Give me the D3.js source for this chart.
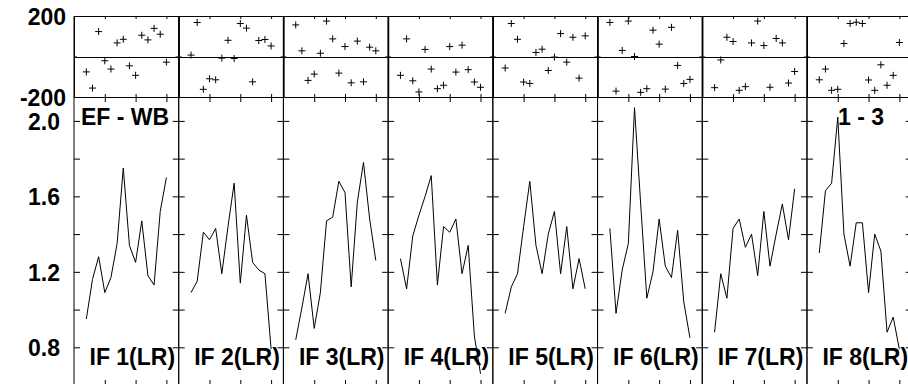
<!DOCTYPE html>
<html>
<head>
<meta charset="utf-8">
<script src="https://cdn.jsdelivr.net/npm/d3@7/dist/d3.min.js"></script>
<style>
  html, body { margin: 0; padding: 0; background: #fff; }
  svg { display: block; }
</style>
</head>
<body>
<svg id="chart" width="908" height="384"></svg>
<script>
// ---------- data ----------
const panelLabels = ["IF 1(LR)", "IF 2(LR)", "IF 3(LR)", "IF 4(LR)", "IF 5(LR)", "IF 6(LR)", "IF 7(LR)", "IF 8(LR)"];
const xValues = [2, 3, 4, 5, 6, 7, 8, 9, 10, 11, 12, 13, 14, 15];
const xTicks = [5, 10, 15];
const topTickLabels = [-200, 200];
const lowTicks = [0.8, 1.0, 1.2, 1.4, 1.6, 1.8, 2.0];
const lowTickLabels = [0.8, 1.2, 1.6, 2.0];

// top strip (scatter of "+") values per panel
const score1 = [-76, -156, 123, -21, -62, 67, 85, -46, -93, 105, 82, 139, 110, -28];
const score2 = [7, 168, -162, -110, -115, -8, 80, -10, 163, 140, -125, 79, 84, 52];
const score3 = [156, 28, -118, -87, 16, 175, 87, -82, 49, -130, 76, -125, 46, 28];
const score4 = [-93, 87, -120, -175, 35, -62, -159, -142, 49, -77, 56, -65, -126, -152];
const score5 = [-57, 163, 85, -126, -133, 20, 36, -69, -3, 113, -28, 95, -107, 102];
const score6 = [168, -171, 30, 175, 0, -177, -159, 130, 61, -161, 144, -44, -133, -113];
const score7 = [-154, -17, 95, 74, -167, -149, 67, 175, 54, -152, 89, 67, -131, -74];
const score8 = [-115, -62, -167, -162, 64, 163, 169, 163, -116, -167, -41, -142, -93, 69];

// lower panel (line) values per panel
const ratio1 = [0.95, 1.16, 1.28, 1.09, 1.17, 1.35, 1.75, 1.34, 1.25, 1.47, 1.18, 1.13, 1.52, 1.70];
const ratio2 = [1.09, 1.15, 1.41, 1.37, 1.43, 1.19, 1.44, 1.67, 1.14, 1.50, 1.25, 1.21, 1.19, 0.79];
const ratio3 = [0.84, 1.01, 1.19, 0.90, 1.09, 1.47, 1.49, 1.68, 1.62, 1.12, 1.57, 1.78, 1.48, 1.26];
const ratio4 = [1.27, 1.11, 1.39, 1.50, 1.60, 1.71, 1.13, 1.44, 1.41, 1.48, 1.19, 1.34, 0.86, 0.66];
const ratio5 = [0.98, 1.12, 1.19, 1.44, 1.68, 1.34, 1.19, 1.40, 1.52, 1.19, 1.44, 1.11, 1.27, 1.11];
const ratio6 = [1.43, 0.98, 1.21, 1.35, 2.07, 1.56, 1.06, 1.20, 1.48, 1.23, 1.17, 1.42, 1.04, 0.85];
const ratio7 = [0.88, 1.19, 1.06, 1.43, 1.48, 1.33, 1.40, 1.18, 1.52, 1.23, 1.40, 1.56, 1.37, 1.64];
const ratio8 = [1.30, 1.63, 1.67, 2.02, 1.40, 1.23, 1.46, 1.46, 1.09, 1.40, 1.31, 0.88, 0.96, 0.79];

const cornerLeft = "EF - WB";
const cornerRight = "1 - 3";

const scores = [score1, score2, score3, score4, score5, score6, score7, score8];
const ratios = [ratio1, ratio2, ratio3, ratio4, ratio5, ratio6, ratio7, ratio8];

// ---------- layout ----------
const left0 = 74, panelW = 104.71;
const topY0 = 16, topY1 = 97;   // top strip
const lowY0 = 97, lowY1 = 386;  // lower panel frame
const FONT = "'Liberation Sans', Arial, Helvetica, sans-serif";

const svg = d3.select("#chart");

const yTop = d3.scaleLinear().domain([-200, 200]).range([topY1, topY0]);
const yLow = d3.scaleLinear().domain([0.8, 2.0]).range([347.3, 120.9]);

function styleAxis(g) {
  g.selectAll("path.domain").attr("stroke", "#000").attr("stroke-width", 1);
  g.selectAll(".tick line").attr("stroke", "#000").attr("stroke-width", 1);
  g.selectAll(".tick text").remove();
}

panelLabels.forEach((label, i) => {
  const x0 = left0 + i * panelW, x1 = x0 + panelW;
  const xs = d3.scaleLinear().domain([0, 17]).range([x0, x1]);
  const g = svg.append("g");

  // ----- top strip frame & ticks -----
  g.append("g").attr("transform", `translate(0,${topY0})`)
    .call(d3.axisBottom(xs).tickValues(xTicks).tickSize(3).tickSizeOuter(0).tickFormat(""))
    .call(styleAxis);
  g.append("g").attr("transform", `translate(0,${topY1})`)
    .call(d3.axisTop(xs).tickValues(xTicks).tickSize(3).tickSizeOuter(0).tickFormat(""))
    .call(styleAxis);
  g.append("g").attr("transform", `translate(${x0},0)`)
    .call(d3.axisRight(yTop).tickValues([-200, 0, 200]).tickSize(3).tickSizeOuter(0).tickFormat(""))
    .call(styleAxis);
  g.append("g").attr("transform", `translate(${x1},0)`)
    .call(d3.axisLeft(yTop).tickValues([-200, 0, 200]).tickSize(3).tickSizeOuter(0).tickFormat(""))
    .call(styleAxis);
  // zero line
  g.append("line")
    .attr("x1", x0).attr("x2", x1)
    .attr("y1", Math.round(yTop(0)) + 0.5).attr("y2", Math.round(yTop(0)) + 0.5)
    .attr("stroke", "#000").attr("stroke-width", 1);

  // plus markers
  const s = 3.5;
  g.append("g").selectAll("path.plus")
    .data(scores[i].map((v, j) => [xValues[j], v]))
    .join("path")
    .attr("class", "plus")
    .attr("transform", d => `translate(${xs(d[0])},${yTop(d[1])})`)
    .attr("d", `M${-s},0H${s}M0,${-s}V${s}`)
    .attr("stroke", "#000").attr("stroke-width", 1).attr("fill", "none");

  // ----- lower panel frame & ticks -----
  g.append("g").attr("transform", `translate(0,${lowY0})`)
    .call(d3.axisBottom(xs).tickValues(xTicks).tickSize(5).tickSizeOuter(0).tickFormat(""))
    .call(styleAxis);
  g.append("g").attr("transform", `translate(0,${lowY1})`)
    .call(d3.axisTop(xs).tickValues(xTicks).tickSize(6).tickSizeOuter(0).tickFormat(""))
    .call(styleAxis);

  const leftAx = g.append("g").attr("transform", `translate(${x0},0)`)
    .call(d3.axisRight(yLow).tickValues(lowTicks).tickSize(6).tickSizeOuter(0).tickFormat(""))
    .call(styleAxis);
  const rightAx = g.append("g").attr("transform", `translate(${x1},0)`)
    .call(d3.axisLeft(yLow).tickValues(lowTicks).tickSize(6).tickSizeOuter(0).tickFormat(""))
    .call(styleAxis);
  leftAx.select("path.domain").remove();
  rightAx.select("path.domain").remove();
  // vertical frame lines spanning both strips
  [x0, x1].forEach(xx => {
    g.append("line")
      .attr("x1", xx).attr("x2", xx).attr("y1", topY0).attr("y2", lowY1)
      .attr("stroke", "#000").attr("stroke-width", 1);
  });

  // line
  const line = d3.line().x((d, j) => xs(xValues[j])).y(d => yLow(d));
  g.append("path")
    .datum(ratios[i])
    .attr("d", line)
    .attr("fill", "none").attr("stroke", "#000").attr("stroke-width", 1);

  // panel label
  g.append("text")
    .attr("x", x0 + 15.5).attr("y", 365)
    .attr("font-family", FONT).attr("font-weight", "bold").attr("font-size", 23)
    .attr("fill", "#000")
    .text(label);
});

// ----- y tick labels -----
const topLab = svg.append("g").attr("transform", `translate(${left0},0)`)
  .call(d3.axisLeft(yTop).tickValues(topTickLabels).tickSize(0).tickPadding(8).tickFormat(d => String(d)));
topLab.select("path.domain").remove();
topLab.selectAll("text").attr("font-family", FONT).attr("font-weight", "bold")
  .attr("font-size", 23).attr("fill", "#000").attr("dy", "0.36em");

const lowLab = svg.append("g").attr("transform", `translate(${left0},0)`)
  .call(d3.axisLeft(yLow).tickValues(lowTickLabels).tickSize(0).tickPadding(14).tickFormat(d => d.toFixed(1)));
lowLab.select("path.domain").remove();
lowLab.selectAll("text").attr("font-family", FONT).attr("font-weight", "bold")
  .attr("font-size", 23).attr("fill", "#000").attr("dy", "0.36em");

// ----- corner labels -----
svg.append("text")
  .attr("x", 81).attr("y", 125)
  .attr("font-family", FONT).attr("font-weight", "bold").attr("font-size", 23)
  .attr("fill", "#000").text(cornerLeft);
svg.append("text")
  .attr("x", 838).attr("y", 125)
  .attr("font-family", FONT).attr("font-weight", "bold").attr("font-size", 23)
  .attr("fill", "#000").text(cornerRight);
</script>
</body>
</html>
